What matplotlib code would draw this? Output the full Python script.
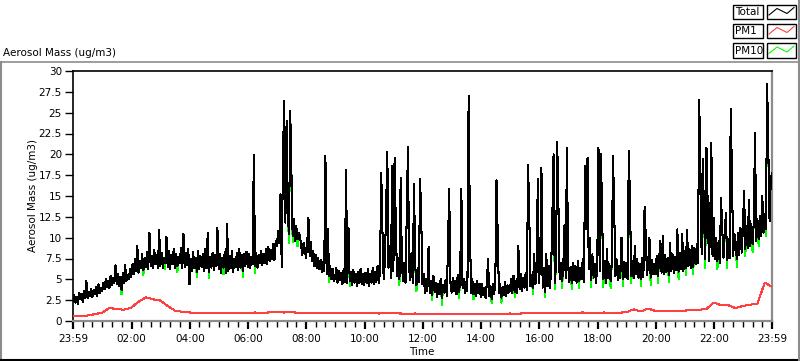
import numpy as np
import matplotlib
matplotlib.use("Agg")
import matplotlib.pyplot as plt
from matplotlib.patches import Rectangle
from matplotlib.lines import Line2D

# ---------------- data ----------------
# Total aerosol mass, 2.5-minute samples from 23:59 to 23:59 (next day);
# one row per hour
total = [
    2.4, 3.1, 2.2, 2.9, 2.0, 3.4, 2.6, 3.3, 2.3, 3.6, 2.8, 4.8, 2.7, 3.5, 3.0, 3.9, 2.9, 3.7, 3.2, 4.1, 3.0, 4.4, 3.3, 4.0,
    3.6, 4.6, 3.8, 5.0, 4.1, 4.8, 3.9, 5.4, 4.3, 5.2, 4.5, 6.7, 4.4, 5.6, 4.2, 5.3, 3.7, 5.8, 4.6, 6.7, 4.8, 5.5, 5.0, 6.2,
    5.3, 6.8, 5.6, 7.4, 6.0, 9.0, 5.8, 7.2, 6.3, 8.0, 6.1, 7.6, 6.5, 8.3, 6.2, 10.6, 6.6, 7.8, 6.4, 8.5, 6.8, 7.9, 6.3, 10.9,
    6.6, 8.2, 6.4, 7.6, 6.9, 10.1, 6.5, 8.4, 6.2, 7.9, 6.8, 8.6, 6.4, 8.1, 6.6, 7.7, 6.9, 8.8, 6.3, 10.5, 6.5, 8.2, 6.7, 8.6,
    4.4, 7.5, 6.0, 8.3, 6.3, 7.6, 5.9, 8.4, 6.2, 7.8, 6.5, 8.1, 6.0, 8.6, 6.3, 10.6, 5.9, 7.7, 6.4, 8.2, 6.1, 7.9, 6.6, 11.2,
    6.2, 8.0, 5.8, 7.6, 6.4, 8.3, 5.7, 11.6, 6.0, 7.8, 6.3, 8.4, 5.9, 7.5, 6.5, 8.2, 6.1, 8.6, 6.4, 7.9, 6.0, 8.1, 6.6, 8.3,
    6.5, 8.0, 6.3, 7.7, 6.8, 19.9, 6.6, 8.2, 6.4, 7.9, 6.9, 8.4, 6.7, 8.1, 7.0, 8.6, 6.8, 8.9, 7.2, 8.5, 7.4, 9.2, 7.3, 9.6,
    9.0, 10.8, 9.4, 15.2, 6.5, 19.5, 26.4, 11.8, 24.0, 12.6, 10.4, 25.2, 17.9, 10.2, 12.2, 9.6, 11.4, 9.8, 10.6, 10.2, 9.1, 7.9, 9.4, 8.6,
    7.6, 9.2, 12.4, 7.8, 9.5, 7.2, 8.4, 6.6, 7.9, 6.4, 7.6, 6.2, 7.3, 5.9, 7.1, 6.0, 19.8, 5.6, 11.0, 5.4, 6.6, 5.0, 6.3, 4.8,
    5.1, 6.4, 4.6, 6.0, 4.9, 5.8, 4.4, 6.2, 4.7, 18.1, 4.5, 11.2, 4.8, 5.9, 4.3, 6.1, 4.6, 5.7, 4.2, 5.9, 4.5, 6.3, 4.4, 5.6,
    4.3, 5.8, 4.5, 6.2, 4.2, 5.6, 4.6, 6.4, 4.4, 5.9, 4.7, 6.6, 4.5, 6.0, 17.8, 10.8, 5.0, 7.2, 13.3, 20.3, 6.4, 9.0, 5.2, 18.6,
    6.0, 19.6, 11.5, 5.4, 7.6, 5.0, 17.2, 6.8, 4.8, 7.0, 4.6, 13.0, 20.9, 6.2, 4.9, 8.2, 4.5, 16.5, 6.6, 4.3, 6.4, 4.7, 17.1, 12.0,
    4.4, 5.6, 3.4, 5.0, 3.6, 8.9, 3.3, 4.8, 3.1, 5.4, 3.5, 4.6, 2.9, 4.4, 3.2, 5.1, 2.8, 4.3, 3.4, 4.9, 3.0, 9.0, 15.8, 4.6,
    3.4, 5.2, 3.6, 4.8, 3.2, 5.5, 3.5, 4.6, 15.9, 4.0, 5.0, 3.3, 4.7, 3.6, 27.0, 12.0, 3.4, 5.1, 3.2, 4.4, 3.0, 4.8, 3.3, 4.5,
    2.9, 4.4, 3.1, 4.0, 2.7, 4.6, 7.4, 3.0, 4.2, 2.6, 4.5, 3.2, 4.8, 16.9, 10.0, 3.3, 4.4, 2.8, 4.1, 3.1, 4.7, 3.0, 4.3, 3.4,
    3.6, 5.0, 3.3, 5.4, 3.5, 4.8, 3.4, 9.0, 3.8, 5.6, 3.6, 5.2, 4.0, 5.8, 3.7, 18.7, 12.6, 4.2, 5.5, 3.9, 8.0, 4.4, 6.0, 17.0,
    4.6, 7.2, 18.4, 4.0, 6.4, 3.5, 8.0, 4.2, 6.6, 4.0, 6.1, 12.6, 20.0, 4.6, 6.8, 21.5, 14.0, 5.0, 7.0, 4.8, 6.4, 11.5, 5.2, 20.8,
    6.8, 4.7, 6.5, 4.5, 7.0, 4.9, 6.6, 4.6, 7.2, 4.8, 6.4, 5.0, 7.4, 4.7, 18.6, 11.0, 19.6, 6.2, 10.0, 4.9, 8.0, 5.2, 6.8, 4.6,
    6.6, 20.8, 6.0, 20.1, 13.0, 5.0, 7.2, 4.6, 8.6, 5.2, 6.8, 4.8, 7.0, 19.8, 13.0, 5.4, 7.4, 4.9, 6.6, 5.2, 10.0, 5.0, 7.1, 5.3,
    7.0, 5.0, 20.4, 14.0, 5.4, 7.2, 5.1, 9.0, 5.6, 7.4, 5.2, 6.8, 5.0, 7.6, 5.3, 13.7, 10.0, 5.5, 7.0, 10.0, 5.2, 7.3, 5.6, 6.9,
    5.6, 7.8, 5.4, 7.4, 9.6, 5.8, 10.2, 5.6, 7.9, 5.9, 7.6, 5.5, 9.4, 6.0, 8.0, 5.8, 7.7, 6.1, 11.0, 5.9, 8.2, 6.2, 10.5, 6.0,
    8.4, 6.3, 10.9, 6.6, 8.6, 6.4, 9.0, 6.5, 8.8, 6.8, 9.2, 7.0, 26.5, 18.4, 8.0, 19.4, 12.5, 7.4, 20.8, 13.8, 7.2, 10.6, 21.4, 7.8,
    12.4, 7.4, 10.0, 7.2, 9.6, 7.0, 14.8, 11.0, 7.6, 10.2, 13.0, 7.3, 9.8, 7.5, 25.4, 17.6, 7.8, 10.4, 9.5, 7.4, 10.6, 7.9, 11.2, 8.2,
    11.0, 15.6, 8.6, 11.4, 8.8, 14.5, 9.0, 11.6, 9.2, 12.0, 22.6, 9.6, 12.2, 9.8, 12.6, 10.2, 15.0, 10.6, 12.8, 11.0, 28.5, 20.4, 12.0, 17.0,
    17.8,
]
total_step_min = 2.5

# PM10 follows Total except at these samples, where it dips below it
pm10_dips = {
    40: 3.2, 58: 5.5, 76: 6.2, 86: 5.9, 102: 5.3, 112: 5.2, 124: 5.6, 140: 5.3,
    150: 5.8, 178: 9.4, 181: 9.5, 185: 9.0, 211: 4.7, 228: 4.2, 269: 4.3,
    283: 3.6, 296: 2.5, 304: 1.9, 318: 2.8, 330: 2.6, 345: 2.1, 353: 2.2,
    364: 2.9, 379: 3.2, 389: 2.9, 397: 3.8, 403: 4.0, 411: 3.8, 417: 4.0,
    427: 4.1, 437: 4.1, 443: 3.9, 453: 4.2, 460: 4.5, 468: 4.2, 476: 4.3,
    482: 4.6, 491: 4.7, 499: 5.0, 505: 5.5, 511: 5.6, 521: 6.3, 531: 6.2,
    539: 6.4, 547: 6.5, 554: 7.8, 560: 8.3, 565: 9.0, 571: 10.2,
}

# PM1, 15-minute samples
pm1 = [
    0.62, 0.60, 0.66, 0.82,
    1.00, 1.55, 1.45, 1.35,
    1.60, 2.30, 2.85, 2.60,
    2.45, 1.80, 1.25, 1.10,
    1.02, 1.00, 0.97, 0.98,
    0.97, 0.99, 0.96, 0.98,
    1.00, 1.02, 0.98, 1.03,
    1.05, 1.02, 1.04, 1.00,
    0.98, 0.96, 0.95, 0.98,
    0.96, 0.94, 0.97, 0.95,
    0.92, 0.95, 0.90, 0.93,
    0.92, 0.90, 0.88, 0.90,
    0.85, 0.82, 0.84, 0.80,
    0.82, 0.80, 0.83, 0.80,
    0.82, 0.86, 0.84, 0.88,
    0.90, 0.88, 0.92, 0.95,
    0.98, 1.00, 0.97, 1.00,
    0.98, 1.00, 1.02, 0.98,
    1.00, 1.02, 0.98, 1.00,
    1.05, 1.40, 1.15, 1.50,
    1.20, 1.25, 1.15, 1.20,
    1.25, 1.30, 1.35, 1.45,
    2.20, 1.90, 1.90, 1.55,
    1.80, 1.95, 2.10, 4.60,
    4.10,
]
pm1_step_min = 15

series_names = ["Total", "PM1", "PM10"]
series_colors = ["#000000", "#ff4040", "#00ff00"]

x_tick_labels = ["23:59", "02:00", "04:00", "06:00", "08:00", "10:00", "12:00",
                 "14:00", "16:00", "18:00", "20:00", "22:00", "23:59"]
x_tick_pos = [0, 121, 241, 361, 481, 601, 721, 841, 961, 1081, 1201, 1321, 1440]
y_ticks = [0, 2.5, 5, 7.5, 10, 12.5, 15, 17.5, 20, 22.5, 25, 27.5, 30]

# ---------------- figure ----------------
W, H = 800, 361
plt.rcParams['font.family'] = ['DejaVu Sans']
fig = plt.figure(figsize=(W / 100, H / 100), dpi=100)
fig.patch.set_facecolor('white')

deco = fig.add_axes([0, 0, 1, 1])
deco.set_xlim(0, W)
deco.set_ylim(H, 0)
deco.axis('off')
gray = '#8c8c8c'
deco.add_line(Line2D([0, 798], [62, 62], color=gray, lw=1.2))
deco.add_line(Line2D([0.8, 0.8], [62, H], color=gray, lw=1.5))
deco.add_line(Line2D([0, W], [360.3, 360.3], color='black', lw=1.5))
deco.add_line(Line2D([798.5, 798.5], [0, H], color=gray, lw=1.5))

# legend
rows_y = [4.5, 23.5, 43]
for name, col, y0 in zip(series_names, series_colors, rows_y):
    deco.add_patch(Rectangle((733, y0), 29.5, 14.5, fill=True, fc='white',
                             ec='black', lw=1.0))
    deco.add_patch(Rectangle((767, y0), 29, 14.5, fill=True, fc='white',
                             ec='black', lw=1.0))
    deco.text(735, y0 + 7.6, name, fontsize=7.5, va='center', ha='left')
    deco.add_line(Line2D([769, 777, 787, 794], [y0 + 10.5, y0 + 4, y0 + 9, y0 + 3],
                         color=col, lw=0.8))

deco.text(3, 53, "Aerosol Mass (ug/m3)", fontsize=7.5, va='center', ha='left')
deco.text(422, 352, "Time", fontsize=7.5, va='center', ha='center')
deco.text(33, 196, "Aerosol Mass (ug/m3)", fontsize=7.5, va='center',
          ha='center', rotation=90)

ax = fig.add_axes([73 / W, 1 - 321 / H, (772 - 73) / W, (321 - 71) / H])
ax.set_facecolor('white')

tx = np.arange(len(total)) * total_step_min
pm10 = list(total)
for i, v in pm10_dips.items():
    pm10[i] = v
px = np.arange(len(pm1)) * pm1_step_min

ax.plot(tx, pm10, color=series_colors[2], lw=0.75, antialiased=False, zorder=2)
ax.plot(tx, total, color=series_colors[0], lw=0.75, antialiased=False, zorder=3)
ax.plot(px, pm1, color=series_colors[1], lw=0.75, antialiased=False, zorder=4)

ax.set_xlim(0, 1440)
ax.set_ylim(0, 30)
ax.set_yticks(y_ticks)
ax.set_yticklabels([f"{v:g}" for v in y_ticks], fontsize=7.5)
ax.set_xticks(x_tick_pos)
ax.set_xticklabels(x_tick_labels, fontsize=7.5)
minor = [m for m in range(20, 1440, 20) if all(abs(m - p) > 5 for p in x_tick_pos)]
ax.set_xticks(minor, minor=True)
ax.tick_params(axis='y', direction='out', length=6, width=1, pad=2, colors='black')
ax.tick_params(axis='x', which='major', direction='out', length=6, width=1.6, pad=3)
ax.tick_params(axis='x', which='minor', direction='out', length=4, width=1)
for s in ['top', 'left']:
    ax.spines[s].set_color('black')
    ax.spines[s].set_linewidth(1.2)
for s in ['right', 'bottom']:
    ax.spines[s].set_color(gray)
    ax.spines[s].set_linewidth(1.6)

fig.savefig("out.png", dpi=100, facecolor='white')
